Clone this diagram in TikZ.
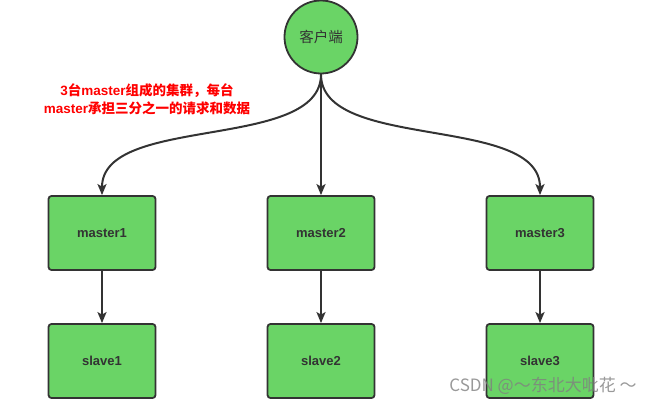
\documentclass[tikz,border=0pt]{standalone}
\usepackage{fontspec}
\setmainfont{Liberation Sans}
\newfontfamily\cjk{Noto Sans CJK SC}
\newfontfamily\cjkb{Noto Sans CJK SC Bold}
\usetikzlibrary{arrows.meta,calc}
\definecolor{boxgreen}{RGB}{106,212,102}
\definecolor{edgegray}{RGB}{51,51,51}
\definecolor{txtred}{RGB}{255,0,0}
\tikzset{
  boxnode/.style={draw=edgegray,line width=1.8pt,fill=boxgreen,rounded corners=3pt,
    minimum width=107pt,minimum height=74pt,inner sep=0pt,
    font=\fontsize{13pt}{15pt}\selectfont\bfseries,text=edgegray},
  clientnode/.style={draw=edgegray,line width=1.8pt,fill=boxgreen,circle,
    minimum size=73pt,inner sep=0pt,font=\fontsize{14.5pt}{16pt}\selectfont\cjk,text=edgegray},
  link/.style={draw=edgegray,line width=2pt,-{Stealth[length=11pt,width=9pt,inset=2.5pt]}},
}
\begin{document}
\begin{tikzpicture}[x=1pt,y=-1pt]
\useasboundingbox (0,0) rectangle (665,404);
\node[clientnode] (c) at (321,37) {客户端};
\node[boxnode] (m1) at (102,233) {master1};
\node[boxnode] (m2) at (321,233) {master2};
\node[boxnode] (m3) at (540,233) {master3};
\node[boxnode] (s1) at (102,361) {slave1};
\node[boxnode] (s2) at (321,361) {slave2};
\node[boxnode] (s3) at (540,361) {slave3};
\node[text=txtred,align=center,inner sep=0pt,font=\fontsize{13.5pt}{18pt}\selectfont\bfseries] (lbl) at (147,99)
  {3{\cjkb 台}master{\cjkb 组成的集群，每台}\\master{\cjkb 承担三分之一的请求和数据}};
\draw[link] (c.south) .. controls ($(c.south)+(0,77)$) and ($(m1.north)+(0,-81)$) .. (m1.north);
\draw[link] (c.south) -- (m2.north);
\draw[link] (c.south) .. controls ($(c.south)+(0,77)$) and ($(m3.north)+(0,-81)$) .. (m3.north);
\draw[link] (m1) -- (s1);
\draw[link] (m2) -- (s2);
\draw[link] (m3) -- (s3);
\node[text=gray,opacity=0.8,inner sep=0pt,font=\fontsize{17pt}{19pt}\selectfont\cjk] (wm) at (543,386) {CSDN @～东北大吡花 ～};
\end{tikzpicture}
\end{document}
